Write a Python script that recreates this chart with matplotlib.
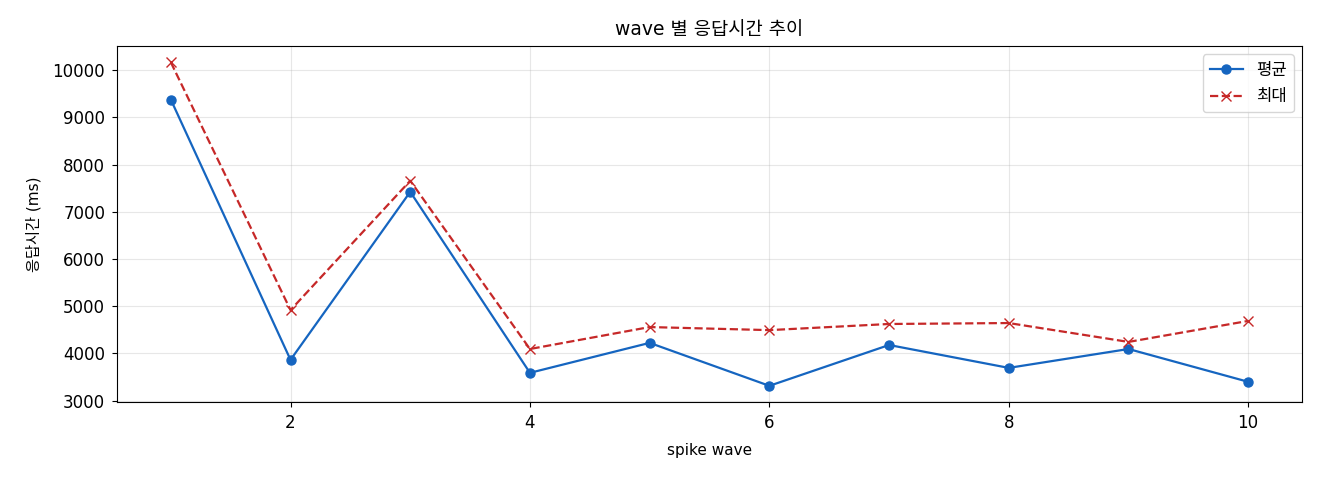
import matplotlib
matplotlib.use('Agg')
import matplotlib.pyplot as plt

plt.rcParams['font.family'] = ['DejaVu Sans', 'Noto Sans CJK KR']
plt.rcParams['axes.unicode_minus'] = False

# Data
waves = [1, 2, 3, 4, 5, 6, 7, 8, 9, 10]
mean_ms = [9380, 3865, 7425, 3590, 4225, 3315, 4180, 3695, 4095, 3400]
max_ms = [10170, 4920, 7660, 4095, 4560, 4495, 4625, 4645, 4245, 4690]

fig, ax = plt.subplots(figsize=(13.2, 4.8), dpi=100)
ax.plot(waves, mean_ms, marker='o', color='#1565C0', linewidth=1.6, markersize=6.5, label='평균')
ax.plot(waves, max_ms, marker='x', linestyle='--', color='#C62828', linewidth=1.6, markersize=7, label='최대')

ax.set_title('wave 별 응답시간 추이', fontsize=13.5, pad=8)
ax.set_xlabel('spike wave', fontsize=11, labelpad=8)
ax.set_ylabel('응답시간 (ms)', fontsize=11, labelpad=8)
ax.tick_params(labelsize=12, pad=5)
ax.grid(True, alpha=0.3)
ax.legend(loc='upper right', fontsize=12)

fig.subplots_adjust(left=0.0886, right=0.9864, top=0.904, bottom=0.1625)
plt.savefig('out.png', dpi=100)
